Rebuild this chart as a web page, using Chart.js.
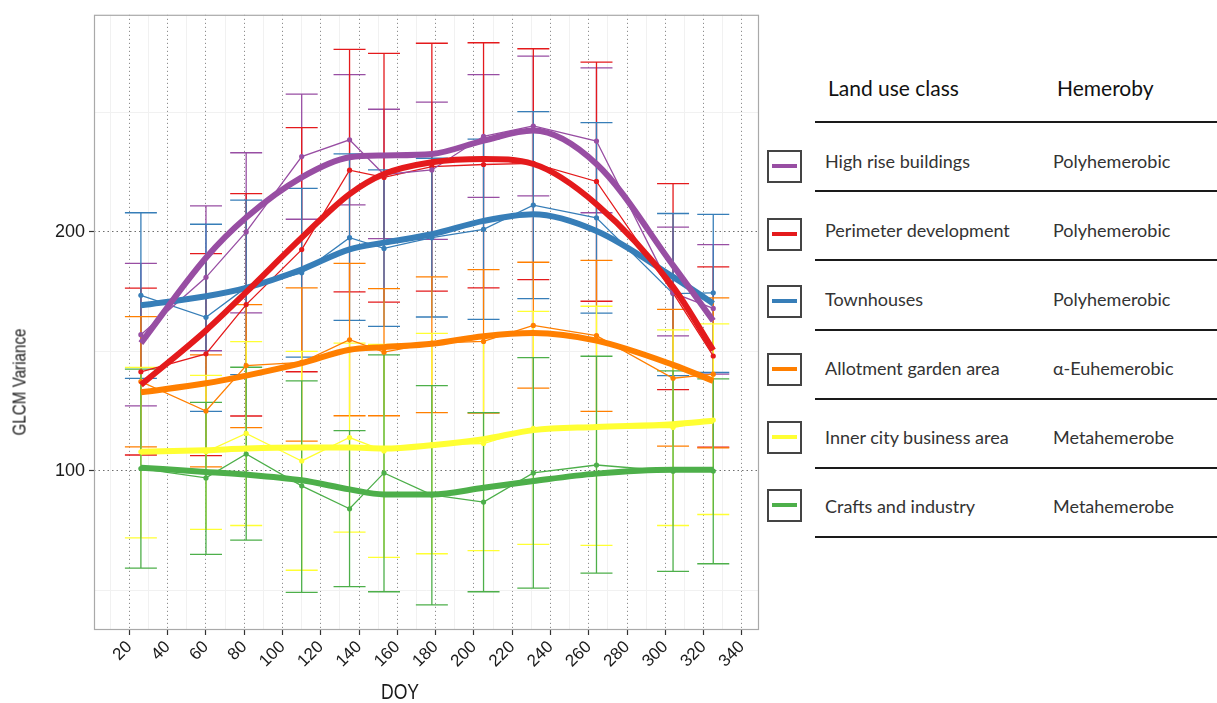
<!DOCTYPE html>
<html>
<head>
<meta charset="utf-8">
<script src="https://cdn.jsdelivr.net/npm/chart.js@4.4.1/dist/chart.umd.min.js"></script>
<style>
  html, body { margin: 0; padding: 0; background: #fff; width: 1217px; height: 703px; overflow: hidden; position: relative; }
  #grafico { position: absolute; left: 0; top: 0; }
  .titulo-eixo { position: absolute; font-family: 'Liberation Sans', Arial, sans-serif; color: #1a1a1a; white-space: nowrap; line-height: 1; }
  #tit-y { left: 19px; top: 382px; font-size: 19px; transform: translate(-50%, -50%) rotate(-90deg) scaleX(.8); }
  #tit-x { left: 400px; top: 692px; font-size: 22px; transform: translate(-50%, -50%) scaleX(.8); }
  .leg { position: absolute; font-family: Lato, 'Open Sans', sans-serif; white-space: nowrap; line-height: 1; }
  .cab { font-size: 21px; color: #111; }
  .txt { font-size: 18px; color: #333; }
  .linha { position: absolute; left: 815px; width: 402px; height: 2px; background: #1a1a1a; }
  .caixa { position: absolute; left: 767px; width: 31px; height: 29px; border: 2px solid #444; }
  .caixa span { position: absolute; left: 3px; right: 3px; top: 12px; height: 4px; }
</style>
</head>
<body>
<canvas id="grafico" width="765" height="703"></canvas>
<div class="titulo-eixo" id="tit-y">GLCM Variance</div>
<div class="titulo-eixo" id="tit-x">DOY</div>
<div id="legenda"></div>

<script>
/* Dias do ano das cenas e ticks dos eixos */
const DOY = [26, 60, 81, 110, 135, 153, 178, 205, 231, 264, 304, 325];
const X_TICKS = [20, 40, 60, 80, 100, 120, 140, 160, 180, 200, 220, 240, 260, 280, 300, 320, 340];
const X_MINOR = [10, 30, 50, 70, 90, 110, 130, 150, 170, 190, 210, 230, 250, 270, 290, 310, 330];
const Y_TICKS = [100, 200];
const Y_MINOR = [50, 150, 250];

/* Classes de uso do solo e hemerobia (tabela da legenda) */
const CLASSES = ['High rise buildings', 'Perimeter development', 'Townhouses', 'Allotment garden area', 'Inner city business area', 'Crafts and industry'];
const HEMEROBIA = ['Polyhemerobic', 'Polyhemerobic', 'Polyhemerobic', 'α-Euhemerobic', 'Metahemerobe', 'Metahemerobe'];

/* High rise buildings */
const HR_MEDIA = [157, 181, 200, 231.5, 238.5, 224, 225.9, 240, 244.3, 238, 174.5, 168];
const HR_MIN = [127.2, 150.3, 166.1, 205.3, 211.3, 197.2, 196.9, 214.4, 215.1, 208, 156.5, 140.5];
const HR_MAX = [186.8, 210.9, 233.1, 257.6, 265.8, 251.3, 254.3, 265.8, 273.5, 268.6, 202, 194.7];
const HR_SUAVE = [153.5, 189.2, 206, 222.8, 231.2, 232, 232.6, 238.2, 242.4, 228.4, 186, 162.8];

/* Perimeter development */
const PD_MEDIA = [141.5, 149, 169.6, 192.6, 225.8, 222.8, 227.3, 228.2, 228.7, 221.1, 174.5, 148.1];
const PD_MIN = [106.7, 106.4, 123, 141.5, 174.9, 170.6, 175.2, 176.6, 180, 171, 134, 110];
const PD_MAX = [176.5, 190.9, 216, 243.6, 276.3, 274.7, 278.9, 279.1, 276.6, 271, 220.2, 185.4];
const PD_SUAVE = [136, 158.8, 174.8, 197.6, 215.8, 224.2, 229.1, 230.5, 228.4, 211.6, 177, 150.5];

/* Townhouses */
const TH_MEDIA = [173.5, 164.3, 176.8, 182.9, 197.6, 193.1, 197.6, 201.1, 211.2, 205.9, 174.2, 174.5];
const TH_MIN = [138.7, 124.9, 140.3, 147.6, 163, 160.5, 164.4, 163.4, 172.1, 166, 139.9, 141.2];
const TH_MAX = [208, 203.2, 213.3, 218.2, 232.6, 225.9, 230.8, 238.8, 250.3, 245.7, 207.7, 207.3];
const TH_SUAVE = [169.3, 173.1, 176.6, 184.3, 192.7, 195.5, 199, 204.6, 207.4, 200.4, 181.2, 170];

/* Allotment garden area */
const AG_MEDIA = [137.4, 125.1, 144.1, 145.4, 154.9, 149.7, 153.5, 154.2, 160.9, 156.6, 138.8, 140.5];
const AG_MIN = [110.1, 101.7, 118.1, 112.5, 123.1, 123.1, 124.4, 124.2, 134.7, 124.9, 110.4, 109.7];
const AG_MAX = [164.6, 148.6, 169.6, 176.6, 186.8, 176.3, 181.2, 184.2, 187.3, 188.1, 167.6, 172.4];
const AG_SUAVE = [132.9, 136.7, 139.9, 145.1, 150.7, 151.8, 153.2, 156.4, 157.7, 154.5, 144.4, 137.7];

/* Inner city business area */
const IC_MEDIA = [108, 108, 115.7, 104.2, 114, 108.4, 111, 111.5, 117.8, 118.2, 118.2, 121.3];
const IC_MIN = [72, 75.6, 77.2, 58.5, 74.4, 63.9, 65.4, 66.7, 69.3, 68.9, 77.2, 81.8];
const IC_MAX = [143.3, 140, 154.1, 150, 153.5, 152.9, 157.6, 156.3, 166.8, 168.9, 159, 161.5];
const IC_SUAVE = [108, 108.7, 109.4, 109.8, 109.8, 109.4, 110.8, 113.3, 117.1, 118.4, 119.6, 121];

/* Crafts and industry */
const CI_MEDIA = [101, 97.1, 107.1, 93.8, 84.2, 99.2, 90, 87, 99.2, 102.5, 99.9, 100];
const CI_MIN = [59.4, 65.1, 71.1, 49.2, 51.6, 49.5, 44, 49.5, 51, 57.3, 58, 61.2];
const CI_MAX = [142.6, 128.7, 143.4, 137.7, 116.9, 148.6, 135.7, 124.4, 147.4, 148, 141.9, 138.5];
const CI_SUAVE = [101.4, 99.6, 98.5, 96.1, 92.3, 90.2, 90.2, 93, 95.8, 98.9, 100.5, 100.5];

/* Paleta Set1 do ColorBrewer, como no ggplot original */
const CORES = ['#984ea3', '#e41a1c', '#377eb8', '#ff7f00', '#ffff33', '#4daf4a'];

const SERIES = [
  { media: HR_MEDIA, min: HR_MIN, max: HR_MAX, suave: HR_SUAVE },
  { media: PD_MEDIA, min: PD_MIN, max: PD_MAX, suave: PD_SUAVE },
  { media: TH_MEDIA, min: TH_MIN, max: TH_MAX, suave: TH_SUAVE },
  { media: AG_MEDIA, min: AG_MIN, max: AG_MAX, suave: AG_SUAVE },
  { media: IC_MEDIA, min: IC_MIN, max: IC_MAX, suave: IC_SUAVE },
  { media: CI_MEDIA, min: CI_MIN, max: CI_MAX, suave: CI_SUAVE }
];

const pares = arr => DOY.map((d, i) => ({ x: d, y: arr[i] }));

/* Barras de erro desenhadas com as escalas do próprio Chart.js */
const barrasErro = {
  id: 'barrasErro',
  beforeDatasetsDraw(chart) {
    const { ctx, chartArea: a, scales: { x, y } } = chart;
    ctx.save();
    ctx.beginPath();
    ctx.rect(a.left, a.top, a.right - a.left, a.bottom - a.top);
    ctx.clip();
    ctx.lineWidth = 1.3;
    SERIES.forEach((s, k) => {
      ctx.strokeStyle = CORES[k];
      DOY.forEach((d, i) => {
        const px = x.getPixelForValue(d);
        const y1 = y.getPixelForValue(s.min[i]);
        const y2 = y.getPixelForValue(s.max[i]);
        ctx.beginPath();
        ctx.moveTo(px, y1); ctx.lineTo(px, y2);
        ctx.moveTo(px - 16, y1); ctx.lineTo(px + 16, y1);
        ctx.moveTo(px - 16, y2); ctx.lineTo(px + 16, y2);
        ctx.stroke();
      });
    });
    ctx.restore();
  }
};

/* Moldura do painel (panel.border do ggplot) */
const moldura = {
  id: 'moldura',
  afterDraw(chart) {
    const { ctx, chartArea: a } = chart;
    ctx.save();
    ctx.strokeStyle = '#a9a9a9';
    ctx.lineWidth = 1.2;
    ctx.strokeRect(a.left + .5, a.top + .5, a.right - a.left - 1, a.bottom - a.top - 1);
    ctx.restore();
  }
};

const datasets = [];
SERIES.forEach((s, k) => {
  datasets.push({
    label: CLASSES[k] + ' (loess)', data: pares(s.suave), order: 0,
    borderColor: CORES[k], borderWidth: 6, pointRadius: 0,
    cubicInterpolationMode: 'monotone', borderCapStyle: 'butt'
  });
  datasets.push({
    label: CLASSES[k], data: pares(s.media), order: 1,
    borderColor: CORES[k], backgroundColor: CORES[k], borderWidth: 1.3,
    pointRadius: 2.6, pointBorderWidth: 0, tension: 0
  });
});

const fonteEixo = { family: "'Liberation Sans', Arial, sans-serif", size: 18 };
const ehMaior = (lista, c) => c.tick && lista.includes(c.tick.value);

new Chart(document.getElementById('grafico'), {
  type: 'line',
  data: { datasets },
  plugins: [barrasErro, moldura],
  options: {
    responsive: false, animation: false, devicePixelRatio: 1,
    layout: { padding: { top: 14, right: 6, left: 0, bottom: 0 } },
    plugins: { legend: { display: false }, tooltip: { enabled: false } },
    scales: {
      x: {
        type: 'linear', min: 1.5, max: 348.9,
        afterBuildTicks: s => { s.ticks = [...X_TICKS, ...X_MINOR].sort((a, b) => a - b).map(v => ({ value: v })); },
        afterFit: s => { s.height = 73; },
        ticks: {
          autoSkip: false, minRotation: 45, maxRotation: 45, padding: 2,
          color: '#1a1a1a', font: { ...fonteEixo, size: 17 },
          callback: v => X_TICKS.includes(v) ? String(v) : ''
        },
        grid: {
          color: c => ehMaior(X_TICKS, c) ? '#8f8f8f' : '#f1f1f1',
          lineWidth: 1, tickLength: 5, tickWidth: 1.2,
          tickColor: c => ehMaior(X_TICKS, c) ? '#333' : 'rgba(0,0,0,0)'
        },
        border: { display: false, dash: c => ehMaior(X_TICKS, c) ? [1.2, 2.8] : [] }
      },
      y: {
        type: 'linear', min: 33.5, max: 290.8,
        afterBuildTicks: s => { s.ticks = [...Y_TICKS, ...Y_MINOR].sort((a, b) => a - b).map(v => ({ value: v })); },
        afterFit: s => { s.width = 94; },
        ticks: {
          padding: 4, color: '#1a1a1a', font: fonteEixo,
          callback: v => Y_TICKS.includes(v) ? String(v) : ''
        },
        grid: {
          color: c => ehMaior(Y_TICKS, c) ? '#6f6f6f' : '#f1f1f1',
          lineWidth: 1, tickLength: 5, tickWidth: 1.2,
          tickColor: c => ehMaior(Y_TICKS, c) ? '#333' : 'rgba(0,0,0,0)'
        },
        border: { display: false, dash: c => ehMaior(Y_TICKS, c) ? [1.5, 3] : [] }
      }
    }
  }
});

/* Tabela da legenda à direita */
let html = `<div class="leg cab" style="left:828px;top:77px">Land use class</div>
            <div class="leg cab" style="left:1057px;top:77px">Hemeroby</div>`;
for (let i = 0; i <= CLASSES.length; i++) {
  html += `<div class="linha" style="top:${(121 + i * 69.2).toFixed(1)}px"></div>`;
}
CLASSES.forEach((nome, i) => {
  const topoTxt = 151.5 + i * 69;
  const topoCx = 150 + i * 67.7;
  html += `<div class="caixa" style="top:${topoCx.toFixed(1)}px"><span style="background:${CORES[i]}"></span></div>
           <div class="leg txt" style="left:825px;top:${topoTxt}px">${nome}</div>
           <div class="leg txt" style="left:1053px;top:${topoTxt}px">${HEMEROBIA[i]}</div>`;
});
document.getElementById('legenda').innerHTML = html;
</script>
</body>
</html>
